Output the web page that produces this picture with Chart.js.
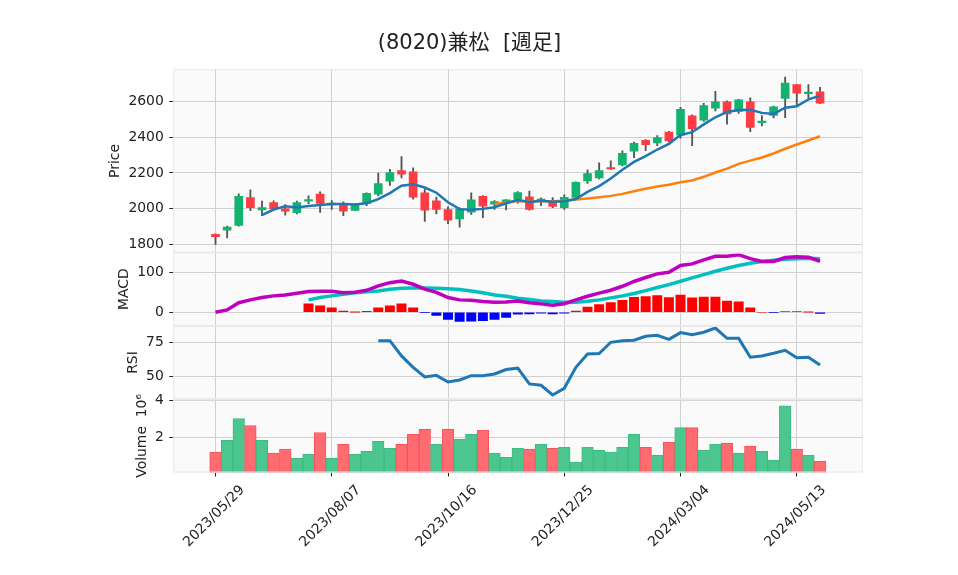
<!DOCTYPE html>
<html>
<head>
<meta charset="utf-8">
<script src="https://cdn.jsdelivr.net/npm/chart.js@4.4.1/dist/chart.umd.min.js"></script>
<style>
  html, body { margin: 0; padding: 0; background: #fff; }
  #wrap { position: relative; width: 958px; height: 575px; }
</style>
</head>
<body>
<div id="wrap"><canvas id="chart"></canvas></div>
<script>
var title = '(8020)兼松  [週足]';

// weekly bars, one per week starting 2023/05/29
var dates = ['2023/05/29','2023/06/05','2023/06/12','2023/06/19','2023/06/26','2023/07/03','2023/07/10','2023/07/17','2023/07/24','2023/07/31',
  '2023/08/07','2023/08/14','2023/08/21','2023/08/28','2023/09/04','2023/09/11','2023/09/18','2023/09/25','2023/10/02','2023/10/09',
  '2023/10/16','2023/10/23','2023/10/30','2023/11/06','2023/11/13','2023/11/20','2023/11/27','2023/12/04','2023/12/11','2023/12/18',
  '2023/12/25','2024/01/01','2024/01/08','2024/01/15','2024/01/22','2024/01/29','2024/02/05','2024/02/12','2024/02/19','2024/02/26',
  '2024/03/04','2024/03/11','2024/03/18','2024/03/25','2024/04/01','2024/04/08','2024/04/15','2024/04/22','2024/04/29','2024/05/06',
  '2024/05/13','2024/05/20','2024/05/27'];

var opens = [1857,1881,1907,2063,1994,2035,2000,1978,2043,2082, 2022,2022,1991,2030,2081,2154,2213,2206,2089,2044,
  1996,1943,1981,2069,2026,2037,2052,2067,2046,2045, 2007,2064,2155,2172,2228,2245,2322,2382,2368,2428,
  2411,2519,2494,2561,2597,2543,2597,2481,2521,2616, 2693,2643,2653];
var highs = [1860,1903,2084,2106,2043,2045,2024,2043,2073,2095, 2046,2039,2028,2089,2200,2220,2291,2228,2109,2065,
  2011,2005,2089,2074,2046,2052,2096,2099,2061,2063, 2078,2150,2218,2257,2268,2324,2372,2387,2409,2432,
  2567,2525,2589,2656,2602,2611,2620,2520,2574,2735, 2694,2693,2678];
var lows = [1801,1838,1903,1989,1961,1991,1965,1972,2028,1980, 1996,1961,1989,2017,2072,2130,2172,2054,1930,1972,
  1917,1898,1969,1950,1996,1994,2031,1993,2017,2006, 1996,2060,2141,2167,2220,2240,2285,2325,2353,2375,
  2394,2353,2488,2546,2472,2533,2430,2463,2507,2509, 2574,2619,2587];
var closes = [1844,1898,2069,2006,2007,2000,1987,2035,2052,2030, 2032,1987,2022,2086,2141,2202,2193,2065,1993,1996,
  1937,2000,2050,2015,2041,2050,2090,1996,2050,2013, 2064,2148,2197,2213,2222,2310,2366,2358,2398,2380,
  2555,2447,2576,2597,2529,2608,2454,2489,2569,2702, 2645,2648,2590];
var volumes = [1230000,1860000,3020000,2650000,1860000,1180000,1390000,910000,1120000,2280000,
  910000,1650000,1120000,1280000,1810000,1440000,1650000,2180000,2440000,1650000,
  2440000,1910000,2180000,2390000,1180000,960000,1440000,1390000,1650000,1440000,
  1490000,700000,1490000,1330000,1230000,1490000,2180000,1490000,1070000,1750000,
  2540000,2540000,1330000,1650000,1700000,1180000,1540000,1280000,810000,3700000,
  1390000,1070000,750000];

var macd = [0,6,24,31,37,41,43,47.5,52,52.5, 52.5,49,50,55,66,74,78,70,58,50,
  37,31,30,27,25,26,28,24,21,17.5, 21.5,31,40,48,55,65,77,87,96,100,
  117,121,131,140,140,144,134,127,127,137, 139,137.5,127.5];
var signal = [null,null,null,null,null,null,null,null,31,37, 41,45,48.5,51.5,53,57.5,60,61,61,60,
  59,57,53,49,43,40,35,32,28,27, 25,25,27.5,31,36,41,47,54,62,69,
  77.5,86,94,102.5,110,117,122.5,127,130,132.5, 134,135,134];
var hist = [null,null,null,null,null,null,null,null,21,16, 11,3,0.5,2.5,11,16,21,11,-1,-8,
  -18,-23,-22,-21,-18,-13,-5,-4,-2.5,-4, -2.5,3,13,19,24,30,37.5,39,41.5,36.5,
  43,36,38,38,28,26,11,0,-1,1.5, 1.5,0.3,-3];
var rsi = [null,null,null,null,null,null,null,null,null,null, null,null,null,null,76.2,76.2,65,56.6,49.5,50.7,
  45.8,47.3,50.5,50.5,51.7,55,56,44.4,43.4,36.3, 41.2,56.6,66.4,66.7,75,76.2,76.5,79.4,80.1,77.2,
  82.1,80.6,82.4,85.5,77.9,77.9,64,65,66.9,69.1, 63.7,64,58.3];

var dateTicks = [0, 10, 20, 30, 40, 50];
var priceTicks = [1800, 2000, 2200, 2400, 2600];
var macdTicks = [0, 100];
var rsiTicks = [50, 75];
var volTicks = [2000000, 4000000];

Chart.defaults.font.family = '"DejaVu Sans", "Noto Sans CJK JP", sans-serif';
Chart.defaults.font.size = 13.9;
Chart.defaults.color = '#222';

function sma(values, len) {
  var out = [];
  for (var i = len - 1; i < values.length; i++) {
    var s = 0;
    for (var k = i - len + 1; k <= i; k++) s += values[k];
    out.push({x: i, y: s / len});
  }
  return out;
}
function series(values) {
  var out = [];
  values.forEach(function (v, i) { if (v !== null) out.push({x: i, y: v}); });
  return out;
}
function fixedTicks(list) {
  return function (axis) { axis.ticks = list.map(function (v) { return {value: v}; }); };
}

var candleUp = closes.map(function (c, i) { return c >= opens[i]; });
var volumeUp = closes.map(function (c, i) { return i === 0 ? c >= opens[0] : c >= closes[i - 1]; });

var gridOpts = {color: '#d0d0d0', tickColor: '#222', tickLength: 4, lineWidth: 1, offset: false};

function yScale(weight, order, min, max, list, fmt) {
  return {
    type: 'linear', position: 'left', stack: 'panels', stackWeight: weight, weight: order,
    min: min, max: max,
    afterBuildTicks: fixedTicks(list),
    afterFit: function (s) { s.width = 120; },
    grid: gridOpts, border: {display: false},
    ticks: {padding: 5.5, color: '#222', autoSkip: false, callback: fmt || function (v) { return v; }}
  };
}

var panelLabels = {yPrice: 'Price', yMacd: 'MACD', yRsi: 'RSI', yVol: 'Volume  10\u2076'};

var decor = {
  id: 'decor',
  beforeDraw: function (chart) {
    var ctx = chart.ctx, a = chart.chartArea;
    ctx.save();
    ctx.fillStyle = '#ffffff';
    ctx.fillRect(0, 0, chart.width, chart.height);
    ctx.fillStyle = '#fafafa';
    ctx.fillRect(a.left, a.top, a.right - a.left, a.bottom - a.top);
    ctx.restore();
  },
  afterDraw: function (chart) {
    var ctx = chart.ctx, a = chart.chartArea;
    ctx.save();
    ctx.strokeStyle = '#e8e8e8';
    ctx.lineWidth = 1;
    Object.keys(panelLabels).forEach(function (id) {
      var s = chart.scales[id];
      ctx.strokeRect(a.left + 0.5, s.top + 0.5, a.right - a.left - 1, s.bottom - s.top - 1);
    });
    ctx.fillStyle = '#222';
    ctx.font = '13.9px "DejaVu Sans"';
    Object.keys(panelLabels).forEach(function (id) {
      var s = chart.scales[id];
      var w = 0;
      s.ticks.forEach(function (t) { w = Math.max(w, ctx.measureText(String(t.label)).width); });
      var xr = s.right - 4 - 5.5 - w - 6;
      ctx.save();
      ctx.translate(xr, (s.top + s.bottom) / 2);
      ctx.rotate(-Math.PI / 2);
      ctx.textAlign = 'center';
      ctx.textBaseline = 'bottom';
      ctx.fillText(panelLabels[id], 0, 0);
      ctx.restore();
    });
    ctx.font = '21px "DejaVu Sans", "Noto Sans CJK JP"';
    ctx.textAlign = 'center';
    ctx.textBaseline = 'middle';
    ctx.fillText(title, 469.5, 44);
    ctx.restore();
  }
};

new Chart(document.getElementById('chart'), {
  type: 'bar',
  data: {
    datasets: [
      {type: 'line', label: 'MA5', data: sma(closes, 5), yAxisID: 'yPrice', borderColor: '#1f77b4',
        borderWidth: 2.5, pointRadius: 0, order: 0},
      {type: 'line', label: 'MA25', data: sma(closes, 25), yAxisID: 'yPrice', borderColor: '#ff7f0e',
        borderWidth: 2.5, pointRadius: 0, order: 0},
      {label: 'body', data: opens.map(function (o, i) { return {x: i, y: [o, closes[i]]}; }), yAxisID: 'yPrice',
        backgroundColor: candleUp.map(function (u) { return u ? '#12b36f' : '#fd3c44'; }),
        barThickness: 8, minBarLength: 1.5, grouped: false, order: 1},
      {label: 'wick', data: lows.map(function (l, i) { return {x: i, y: [l, highs[i]]}; }), yAxisID: 'yPrice',
        backgroundColor: '#555', barThickness: 1.2, grouped: false, order: 2},
      {type: 'line', label: 'MACD', data: series(macd), yAxisID: 'yMacd', borderColor: '#bf00bf',
        borderWidth: 3.5, pointRadius: 0, order: 0},
      {type: 'line', label: 'Signal', data: series(signal), yAxisID: 'yMacd', borderColor: '#00bfbf',
        borderWidth: 3.5, pointRadius: 0, order: 0},
      {label: 'Hist', data: series(hist), yAxisID: 'yMacd',
        backgroundColor: function (c) { return c.raw && c.raw.y < 0 ? '#0000ff' : '#ff0000'; },
        barThickness: 9.3, grouped: false, order: 1},
      {type: 'line', label: 'RSI', data: series(rsi), yAxisID: 'yRsi', borderColor: '#1f77b4',
        borderWidth: 3, pointRadius: 0, order: 0},
      {label: 'Volume', data: volumes.map(function (v, i) { return {x: i, y: v}; }), yAxisID: 'yVol',
        backgroundColor: volumeUp.map(function (u) { return u ? '#4cc68f' : '#fe6b70'; }),
        borderColor: volumeUp.map(function (u) { return u ? '#3dbb82' : '#f4555b'; }),
        borderWidth: 1, borderSkipped: 'start', barThickness: 11.6, grouped: false, order: 1}
    ]
  },
  options: {
    responsive: true,
    maintainAspectRatio: false,
    animation: false,
    events: [],
    layout: {padding: {left: 53.3, right: 95.3, top: 69.3, bottom: 0}},
    plugins: {legend: {display: false}, tooltip: {enabled: false}},
    scales: {
      x: {
        type: 'linear', position: 'bottom', min: -3.63, max: 55.67, offset: false,
        afterBuildTicks: fixedTicks(dateTicks),
        afterFit: function (s) { s.height = 102.5; },
        grid: gridOpts, border: {display: false},
        ticks: {autoSkip: false, minRotation: 45, maxRotation: 45, padding: 5.6, labelOffset: 27, color: '#222',
          callback: function (v) { return dates[v]; }}
      },
      yPrice: yScale(5, 4, 1755.7, 2778.6, priceTicks),
      yMacd: yScale(2, 3, -34, 149.25, macdTicks),
      yRsi: yScale(2, 2, 33.2, 87.06, rsiTicks),
      yVol: yScale(2, 1, 150000, 4050000, volTicks, function (v) { return v / 1000000; })
    }
  },
  plugins: [decor]
});
</script>
</body>
</html>
